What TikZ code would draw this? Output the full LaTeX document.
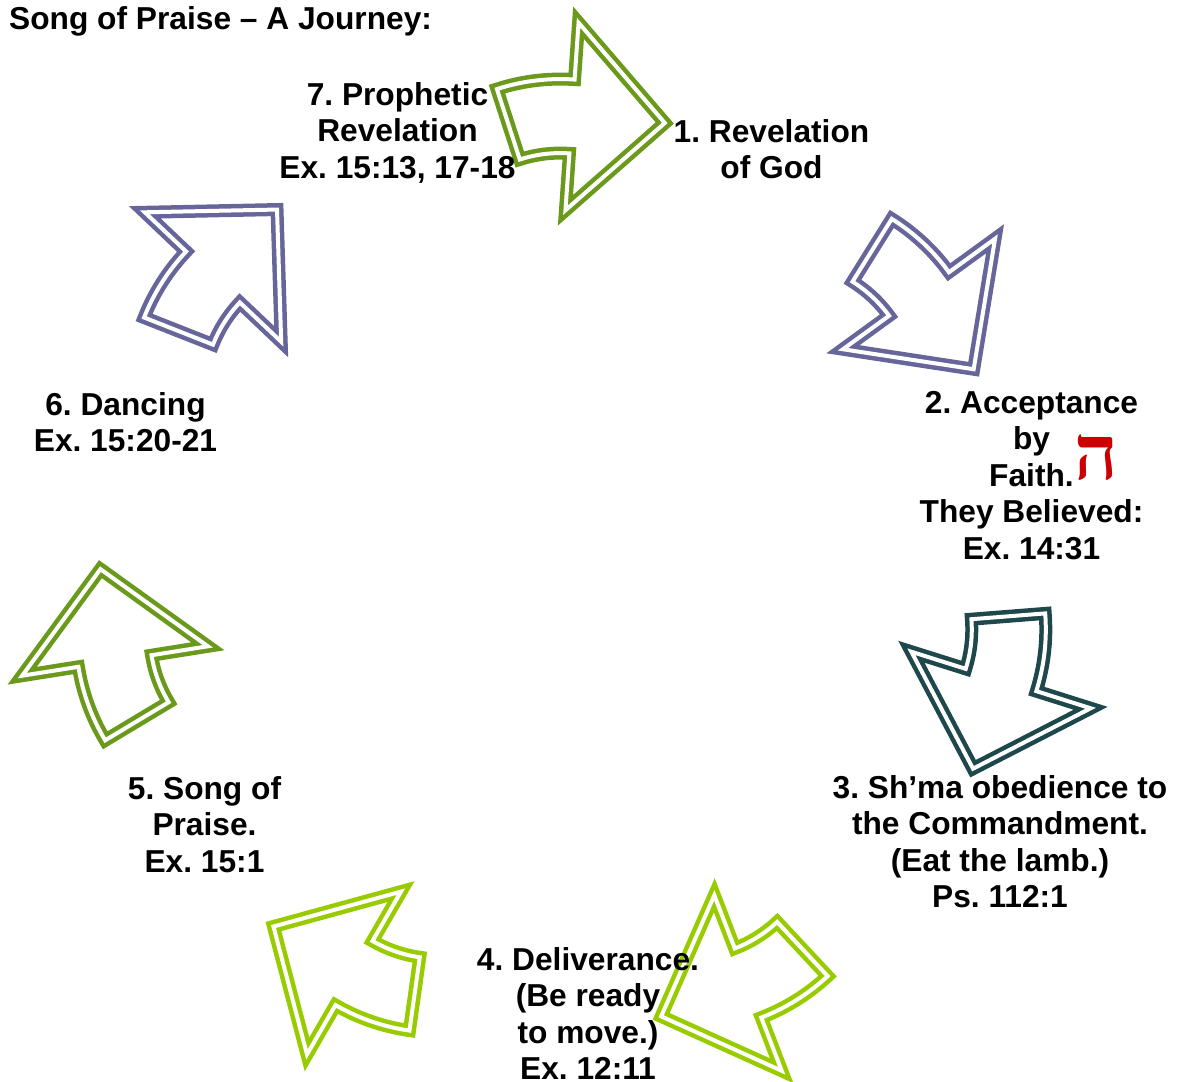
\documentclass[tikz,border=0pt]{standalone}
\usepackage{fontspec}
\setmainfont{Liberation Sans}
\newfontfamily\hebfont[Script=Hebrew]{Liberation Serif}

\definecolor{leafgreen}{RGB}{107,153,28}
\definecolor{limegreen}{RGB}{153,204,0}
\definecolor{slatepurple}{RGB}{102,102,155}
\definecolor{darkteal}{RGB}{30,72,76}
\definecolor{hered}{RGB}{204,0,0}

\newcommand\steplabel{\fontsize{31.7}{36.5}\selectfont\bfseries}
\frenchspacing

% bent block arrow: position, turn, colour
\newcommand\bentarrow[3]{%
  \begin{scope}[shift={(#1)},rotate=#2,color=#3]
    \draw[arrowline] (93,0) -- (0,94) -- (0,37)
      arc[start angle=-90,end angle=-112,radius=131] -- (-76.8,-22.1)
      arc[start angle=-112,end angle=-90,radius=205] -- (0,-94) -- cycle;
  \end{scope}}

\begin{document}
\begin{tikzpicture}[x=1pt,y=1pt,yscale=-1,
    every node/.style={align=center,inner sep=0pt,font=\steplabel,anchor=north},
    arrowline/.style={line width=4.5pt,double=white,double distance=4pt}]
    \useasboundingbox (0,0) rectangle (1180,1081);

    % arrows round the cycle
    \bentarrow{572,116.5}{4}{leafgreen}
    \bentarrow{919,294}{54}{slatepurple}
    \bentarrow{1001,680}{107.5}{darkteal}
    \bentarrow{748,983}{159}{limegreen}
    \bentarrow{354,973}{210}{limegreen}
    \bentarrow{115,661}{261}{leafgreen}
    \bentarrow{213,277}{313.5}{slatepurple}

    % labels
    \node[anchor=north west] (title) at (9,6) {Song of Praise -- A Journey:};
    \node (s1) at (771.5,119) {1. Revelation\\of God};
    \node (s2) at (1031.5,391) {2. Acceptance\\by\\Faith.\\They Believed:\\Ex. 14:31};
    \node[anchor=center,text=hered,font=\hebfont\fontsize{76}{76}\selectfont\bfseries] (he) at (1096,458) {ה};
    \node (s3) at (1000,775) {3. Sh’ma obedience to\\the Commandment.\\(Eat the lamb.)\\Ps. 112:1};
    \node (s4) at (588,947) {4. Deliverance.\\(Be ready\\to move.)\\Ex. 12:11};
    \node (s5) at (204.5,776) {5. Song of\\Praise.\\Ex. 15:1};
    \node (s6) at (125.5,392) {6. Dancing\\Ex. 15:20-21};
    \node (s7) at (397.5,82) {7. Prophetic\\Revelation\\Ex. 15:13, 17-18};
  \end{tikzpicture}
\end{document}
